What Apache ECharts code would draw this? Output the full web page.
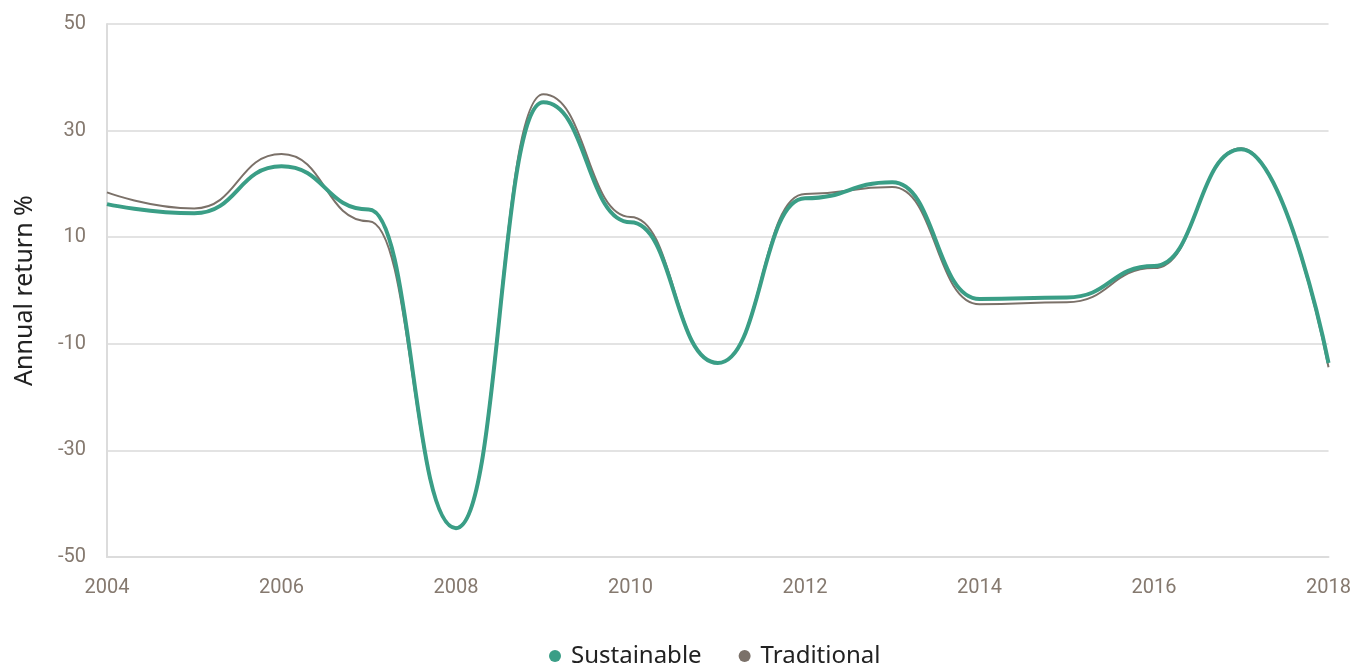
<!DOCTYPE html>
<html>
<head>
<meta charset="utf-8">
<script src="https://cdn.jsdelivr.net/npm/echarts@6/dist/echarts.min.js"></script>
<style>
html,body{margin:0;padding:0;background:#fff;}
#chart{width:1354px;height:664px;}
</style>
</head>
<body>
<div id="chart"></div>
<script>
var years = [2004, 2005, 2006, 2007, 2008, 2009, 2010, 2011, 2012, 2013, 2014, 2015, 2016, 2017, 2018];
var sustainable = [16.2, 14.5, 23.3, 15.2, -44.6, 35.3, 12.8, -13.6, 17.3, 20.3, -1.6, -1.3, 4.6, 26.5, -13.6];
var traditional = [18.4, 15.4, 25.6, 13.0, -44.5, 36.8, 13.8, -13.6, 18.1, 19.4, -2.6, -2.2, 4.2, 26.7, -14.4];
var yTicks = [-50, -30, -10, 10, 30, 50];
var xTicks = [2004, 2006, 2008, 2010, 2012, 2014, 2016, 2018];

function pairs(vals) { return years.map(function (y, i) { return [y, vals[i]]; }); }

var chart = echarts.init(document.getElementById('chart'));
chart.setOption({
  animation: false,
  grid: { left: 107, right: 24, top: 24, bottom: 107, containLabel: false },
  legend: {
    top: 639,
    left: 544,
    icon: 'circle',
    itemWidth: 12,
    itemHeight: 12,
    itemGap: 37,
    textStyle: { fontFamily: 'Noto Sans', fontSize: 24, color: '#222', padding: [0, 0, 0, 5] },
    data: ['Sustainable', 'Traditional']
  },
  xAxis: {
    type: 'value',
    min: xTicks[0],
    max: xTicks[xTicks.length - 1],
    interval: 2,
    axisLine: { show: true, onZero: false, lineStyle: { color: '#dcdcdc', width: 2 } },
    axisTick: { show: false },
    splitLine: { show: false },
    axisLabel: {
      color: '#85796f', fontFamily: 'Roboto', fontSize: 20, margin: 21,
      formatter: function (v) { return xTicks.indexOf(v) >= 0 ? String(v) : ''; }
    }
  },
  yAxis: {
    type: 'value',
    min: yTicks[0],
    max: yTicks[yTicks.length - 1],
    interval: 20,
    name: 'Annual return %',
    nameLocation: 'middle',
    nameGap: 70,
    nameTextStyle: { fontFamily: 'Noto Sans', fontSize: 25, color: '#222' },
    axisLine: { show: true, lineStyle: { color: '#dcdcdc', width: 2 } },
    axisTick: { show: false },
    splitLine: { show: true, lineStyle: { color: '#e3e3e3', width: 2 } },
    axisLabel: { color: '#85796f', fontFamily: 'Roboto', fontSize: 20, margin: 21 }
  },
  series: [
    {
      name: 'Sustainable',
      type: 'line',
      data: pairs(sustainable),
      smooth: 0.5,
      smoothMonotone: 'x',
      showSymbol: false,
      symbol: 'circle',
      z: 3,
      itemStyle: { color: '#3a9e86' },
      lineStyle: { color: '#3a9e86', width: 4 }
    },
    {
      name: 'Traditional',
      type: 'line',
      data: pairs(traditional),
      smooth: 0.5,
      smoothMonotone: 'x',
      showSymbol: false,
      symbol: 'circle',
      z: 2,
      itemStyle: { color: '#7b7169' },
      lineStyle: { color: '#7b7169', width: 2 }
    }
  ]
});
</script>
</body>
</html>
